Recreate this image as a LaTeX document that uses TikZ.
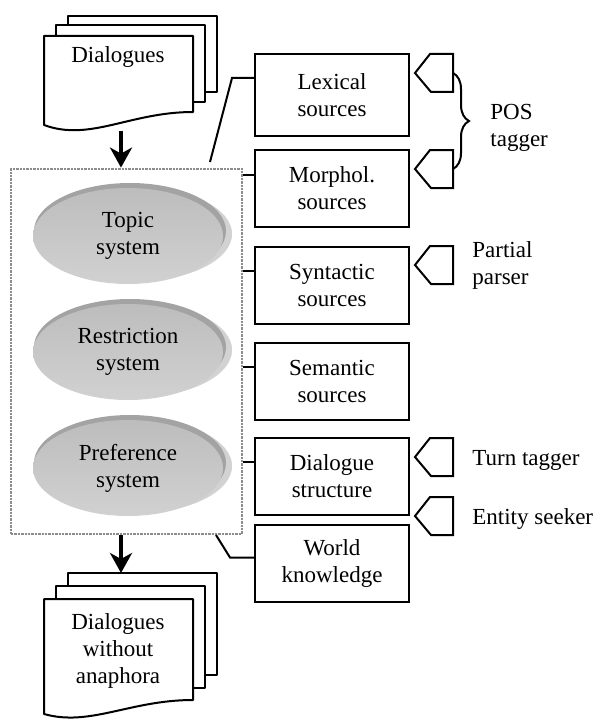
\documentclass[tikz,border=0pt]{standalone}
\usepackage{fontspec}
\setmainfont{Liberation Serif}
\usepackage{tikz}
\usetikzlibrary{arrows.meta,shapes.geometric,decorations.pathreplacing}
\tikzset{
  srcbox/.style={draw, line width=1pt, minimum width=77pt, minimum height=38.5pt, align=center, inner sep=0pt},
  sysell/.style={ellipse, top color=gray!52, bottom color=gray!36, minimum width=95pt, minimum height=48pt, align=center, inner sep=0pt},
  corebox/.style={draw=gray!90, line width=1.4pt, dash pattern=on 1.2pt off 0.5pt, minimum width=115.5pt, minimum height=182.5pt, inner sep=0pt},
  docpage/.style={draw, fill=white, line width=1pt, line join=round},
  lbl/.style={align=left, inner sep=0pt, anchor=west},
  conn/.style={line width=1pt},
  flowarrow/.style={-{Stealth[length=10pt,width=11pt,inset=3pt]}, line width=1.8pt},
  tag/.pic={\draw[line width=1pt, fill=white] (0,0) -- (15,-19) -- (38,-19) -- (38,19) -- (16,19) -- cycle;
            \coordinate (-r) at (38,0);}
}
\begin{document}
\begin{tikzpicture}[x=0.5pt, y=-0.5pt, font=\fontsize{11.5}{13.5}\selectfont]
\useasboundingbox (0,0) rectangle (600,722);

\draw[docpage] (68,16) rectangle (217,92);
\draw[docpage] (56,25) rectangle (205,102);
\draw[docpage] (44,36) -- (193,36) -- (193,112) .. controls (130,112) and (90,142) .. (44,125) -- cycle;
\node (dlg) at (118,57) {Dialogues};
\coordinate (dlg-out) at (121,131);

\foreach \yy in {236,352,468} {
  \fill[gray!35, draw=white, line width=0.8pt] (137,\yy-2) ellipse (48pt and 24pt);
  \fill[gray!72] (130,\yy-5) ellipse (48pt and 24pt);
}
\node[sysell] (topic) at (128,236) {Topic\\system};
\node[sysell] (restr) at (128,352) {Restriction\\system};
\node[sysell] (pref) at (128,468) {Preference\\system};
\node[corebox] (core) at (126.5,351.5) {};

\draw[flowarrow] (dlg-out) -- (dlg-out |- core.north);

\draw[docpage] (68,573) rectangle (217,675);
\draw[docpage] (56,586) rectangle (205,688);
\draw[docpage] (44,599) -- (193,599) -- (193,700) .. controls (130,700) and (90,727) .. (44,714) -- cycle;
\node[align=center] (dlgout) at (118,651) {Dialogues\\without\\anaphora};
\coordinate (dlgout-in) at (121,573);
\draw[flowarrow] (dlgout-in |- core.south) -- (dlgout-in);

\node[srcbox, minimum height=41pt] (lex) at (332,95) {Lexical\\sources};
\node[srcbox] (morph) at (332,188.5) {Morphol.\\sources};
\node[srcbox] (syn) at (332,285) {Syntactic\\sources};
\node[srcbox] (sem) at (332,381) {Semantic\\sources};
\node[srcbox] (dia) at (332,476) {Dialogue\\structure};
\node[srcbox] (world) at (332,563.5) {World\\knowledge};

\coordinate (lex-end) at (210,162);
\coordinate (world-end) at (216,535);
\draw[conn] ([yshift=8.5pt]lex.west) -- ++(-22,0) -- (lex-end);
\foreach \nm in {morph,syn,sem,dia}
  \draw[conn] ([yshift=7pt]\nm.west) -- ([yshift=7pt]\nm.west -| core.east);
\draw[conn] ([yshift=3pt]world.west) -- ++(-24,0) -- (world-end);

\pic (lextag) at (415,73) {tag};
\pic (morphtag) at (415,169) {tag};
\pic (syntag) at (415,265) {tag};
\pic (turntag) at (415,457) {tag};
\pic (enttag) at (415,516) {tag};
\draw[conn, decorate, decoration={brace, amplitude=8pt}] (lextag-r) -- (morphtag-r);

\node[lbl] (pos) at (490,128) {POS\\tagger};
\node[lbl] (parser) at (472,265) {Partial\\parser};
\node[lbl] (turn) at (472,460) {Turn tagger};
\node[lbl] (entity) at (472,519) {Entity seeker};
\end{tikzpicture}
\end{document}
